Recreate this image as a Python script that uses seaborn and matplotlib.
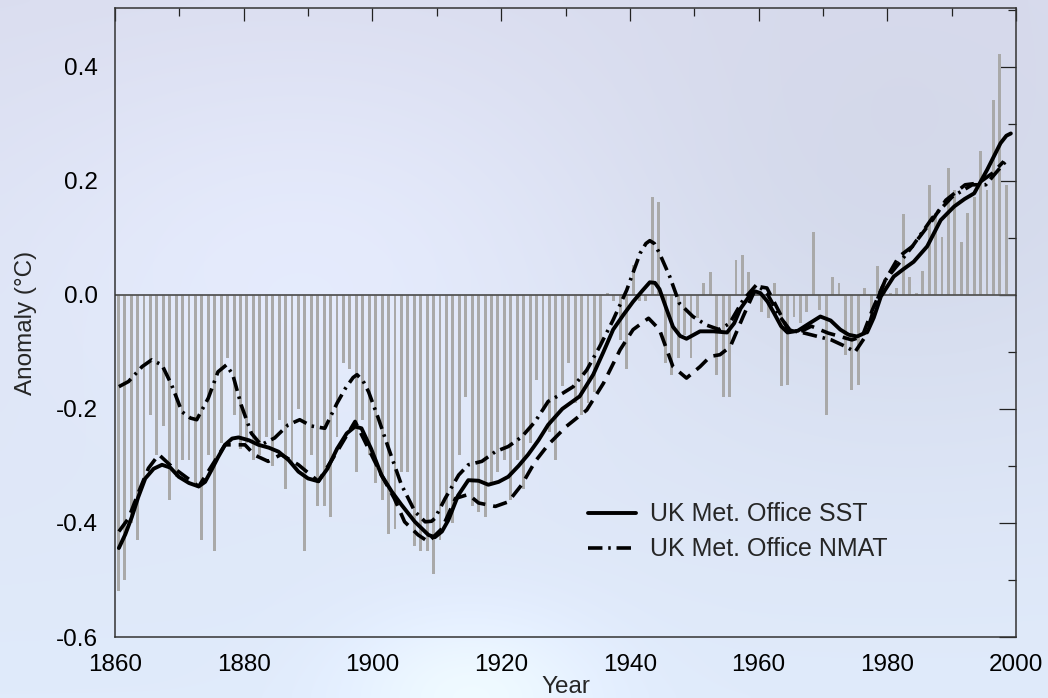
import numpy as np
import pandas as pd
import matplotlib
matplotlib.use("Agg")
import matplotlib.pyplot as plt
from matplotlib.ticker import MultipleLocator
from matplotlib.lines import Line2D
import seaborn as sns

# ---------------- data ----------------
bar_years = list(range(1861, 2000))
bar_values = [
    -0.52, -0.50, -0.40, -0.43, -0.33, -0.21, -0.28, -0.23, -0.36, -0.32,
    -0.29, -0.29, -0.33, -0.43, -0.28, -0.45, -0.26, -0.11, -0.21, -0.27,
    -0.26, -0.29, -0.28, -0.25, -0.30, -0.22, -0.34, -0.30, -0.20, -0.45,
    -0.28, -0.37, -0.37, -0.39, -0.25, -0.12, -0.13, -0.31, -0.22, -0.28,
    -0.33, -0.36, -0.42, -0.41, -0.31, -0.31, -0.44, -0.45, -0.45, -0.49,
    -0.43, -0.40, -0.40, -0.28, -0.18, -0.37, -0.38, -0.39, -0.33, -0.31,
    -0.29, -0.36, -0.29, -0.34, -0.26, -0.15, -0.20, -0.24, -0.29, -0.16,
    -0.12, -0.19, -0.21, -0.19, -0.17, -0.085, 0.003, -0.01, -0.08, -0.13,
    0.053, -0.01, -0.01, 0.172, 0.162, -0.12, -0.14, -0.11, -0.07, -0.11,
    -0.04, 0.02, 0.04, -0.14, -0.18, -0.18, 0.061, 0.07, 0.04, 0.0,
    -0.03, -0.04, 0.02, -0.16, -0.158, -0.038, -0.05, -0.03, 0.111, -0.026,
    -0.21, 0.031, 0.02, -0.105, -0.166, -0.158, 0.012, -0.047, 0.05, 0.026,
    0.003, 0.012, 0.142, 0.031, 0.003, 0.042, 0.193, 0.143, 0.102, 0.222,
    0.183, 0.092, 0.143, 0.172, 0.253, 0.183, 0.342, 0.423, 0.193,
]

sst_years = [1860.6, 1861.6, 1862.6, 1863.6, 1864.7, 1866.0, 1867.3, 1868.6,
             1869.9, 1871.5, 1873.0, 1874.0, 1875.0, 1876.0, 1877.1, 1878.2,
             1879.2, 1880.8, 1882.3, 1883.9, 1885.4, 1887.0, 1888.5, 1890.0,
             1891.6, 1893.0, 1894.5, 1896.0, 1897.3, 1898.3, 1899.8, 1901.4,
             1903.0, 1904.5, 1906.6, 1908.7, 1909.7, 1910.8, 1911.8, 1913.3,
             1914.9, 1916.5, 1918.0, 1919.6, 1921.1, 1922.7, 1924.2, 1925.8,
             1927.3, 1929.5, 1932.2, 1934.3, 1935.9, 1937.4, 1939.0, 1940.5,
             1942.0, 1943.1, 1943.9, 1944.6, 1945.7, 1946.7, 1947.8, 1948.8,
             1950.9, 1953.0, 1955.1, 1956.2, 1957.2, 1958.7, 1959.5, 1960.3,
             1961.4, 1962.4, 1963.5, 1964.5, 1966.1, 1967.9, 1969.6, 1971.2,
             1972.7, 1974.0, 1975.3, 1976.9, 1977.9, 1979.0, 1981.0, 1982.5,
             1984.1, 1986.2, 1988.3, 1990.4, 1992.0, 1993.5, 1995.5, 1997.6,
             1998.5, 1999.2]
sst_values = [-0.444, -0.42, -0.39, -0.355, -0.322, -0.305, -0.298, -0.303,
              -0.319, -0.33, -0.336, -0.328, -0.307, -0.285, -0.263, -0.252,
              -0.25, -0.255, -0.263, -0.268, -0.275, -0.29, -0.31, -0.322,
              -0.327, -0.305, -0.27, -0.243, -0.231, -0.234, -0.27, -0.316,
              -0.345, -0.368, -0.398, -0.421, -0.425, -0.415, -0.395, -0.352,
              -0.325, -0.326, -0.333, -0.328, -0.319, -0.3, -0.28, -0.255,
              -0.228, -0.2, -0.178, -0.14, -0.1, -0.061, -0.035, -0.012,
              0.008, 0.022, 0.021, 0.01, -0.025, -0.056, -0.072, -0.077,
              -0.064, -0.064, -0.066, -0.05, -0.024, 0.0, 0.006, 0.003,
              -0.012, -0.032, -0.055, -0.066, -0.063, -0.05, -0.038, -0.045,
              -0.061, -0.07, -0.073, -0.065, -0.04, -0.003, 0.032, 0.045,
              0.058, 0.085, 0.131, 0.155, 0.168, 0.178, 0.219, 0.266,
              0.279, 0.283]

nmat_years = [1860.6, 1862.1, 1864.2, 1865.7, 1867.3, 1868.8, 1870.4, 1871.7,
              1872.7, 1874.5, 1876.0, 1877.3, 1878.3, 1879.6, 1881.2, 1882.7,
              1884.8, 1886.9, 1888.7, 1890.5, 1892.6, 1894.5, 1895.8, 1897.0,
              1897.6, 1898.5, 1899.4, 1900.9, 1902.5, 1904.5, 1906.6, 1908.2,
              1909.2, 1909.7, 1911.3, 1913.4, 1914.9, 1917.0, 1919.1, 1921.1,
              1923.2, 1925.3, 1927.3, 1929.5, 1931.2, 1933.3, 1935.3, 1937.4,
              1939.5, 1941.6, 1942.5, 1943.1, 1943.8, 1944.6, 1946.2, 1947.7,
              1949.8, 1951.9, 1953.9, 1955.5, 1957.6, 1959.7, 1961.3, 1963.3,
              1964.9, 1967.1, 1969.2, 1971.3, 1973.4, 1975.0, 1976.6, 1978.2,
              1979.7, 1981.8, 1983.9, 1987.0, 1990.1, 1993.2, 1995.3, 1996.8,
              1998.4]
nmat_values = [-0.161, -0.152, -0.126, -0.114, -0.123, -0.158, -0.205, -0.216,
               -0.219, -0.181, -0.135, -0.123, -0.14, -0.193, -0.243, -0.263,
               -0.251, -0.228, -0.219, -0.23, -0.234, -0.19, -0.164, -0.145,
               -0.14, -0.15, -0.17, -0.216, -0.269, -0.333, -0.38, -0.398,
               -0.397, -0.392, -0.357, -0.316, -0.298, -0.292, -0.275, -0.266,
               -0.249, -0.222, -0.187, -0.173, -0.161, -0.132, -0.091, -0.044,
               0.008, 0.073, 0.09, 0.095, 0.09, 0.073, 0.032, -0.015,
               -0.038, -0.053, -0.061, -0.05, -0.009, 0.018, 0.003, -0.038,
               -0.062, -0.067, -0.073, -0.079, -0.09, -0.1, -0.073, -0.015,
               0.026, 0.055, 0.085, 0.135, 0.172, 0.193, 0.193, 0.213,
               0.234]

alt_years = [1860.6, 1862.1, 1863.7, 1865.2, 1866.8, 1868.8, 1873.0, 1877.1,
             1880.2, 1881.7, 1883.8, 1885.8, 1888.5, 1891.6, 1894.5, 1897.3,
             1901.4, 1903.4, 1905.0, 1907.1, 1908.7, 1910.8, 1912.9, 1914.9,
             1916.5, 1919.1, 1921.1, 1923.2, 1925.3, 1927.3, 1930.1, 1933.3,
             1935.9, 1938.5, 1940.5, 1942.9, 1944.6, 1946.7, 1948.8, 1950.9,
             1952.5, 1954.0, 1955.6, 1957.6, 1959.7, 1961.3, 1963.3, 1964.5,
             1966.1, 1968.2, 1970.8, 1974.5, 1976.1, 1977.7, 1979.7, 1981.8,
             1983.9, 1987.0, 1989.1, 1992.1, 1994.2, 1996.3, 1998.1]
alt_values = [-0.415, -0.392, -0.345, -0.304, -0.28, -0.301, -0.336, -0.263,
              -0.263, -0.281, -0.292, -0.28, -0.298, -0.327, -0.275, -0.222,
              -0.316, -0.357, -0.398, -0.421, -0.433, -0.41, -0.357, -0.35,
              -0.365, -0.371, -0.363, -0.333, -0.292, -0.263, -0.231, -0.202,
              -0.155, -0.096, -0.061, -0.041, -0.061, -0.126, -0.146, -0.126,
              -0.108, -0.105, -0.091, -0.038, 0.015, 0.012, -0.032, -0.06,
              -0.067, -0.055, -0.067, -0.079, -0.073, -0.026, 0.026, 0.067,
              0.085, 0.131, 0.166, 0.193, 0.196, 0.213, 0.234]

legend_labels = ["UK Met. Office SST", "UK Met. Office NMAT"]
x_ticks = [1860, 1880, 1900, 1920, 1940, 1960, 1980, 2000]
y_ticks = [-0.6, -0.4, -0.2, 0.0, 0.2, 0.4]

# ---------------- figure ----------------
sns.set_theme(style="white")
plt.rcParams["font.family"] = ["Liberation Sans", "DejaVu Sans"]

fig = plt.figure(figsize=(10.48, 6.98), dpi=100)

# sky-like background over whole figure
bg = fig.add_axes([0, 0, 1, 1], zorder=-10)
H, W = 140, 210
yy, xx = np.mgrid[0:H, 0:W]
yf = yy / (H - 1)
xf = xx / (W - 1)
top = np.array([218, 221, 239]) / 255.0
bot = np.array([224, 235, 251]) / 255.0
img = top[None, None, :] * (1 - yf[..., None]) + bot[None, None, :] * yf[..., None]
glow1 = np.exp(-(((xf - 0.3) / 0.3) ** 2 + ((yf - 0.35) / 0.3) ** 2))
glow2 = np.exp(-(((xf - 0.45) / 0.12) ** 2 + ((yf - 1.0) / 0.12) ** 2))
grey = np.exp(-(((xf - 0.85) / 0.3) ** 2 + ((yf - 0.3) / 0.35) ** 2))
img = img + glow1[..., None] * 0.035 + glow2[..., None] * 0.06 - grey[..., None] * 0.03
img = np.clip(img, 0, 1)
bg.imshow(img, aspect="auto", extent=[0, 1, 0, 1], interpolation="bicubic")
bg.set_axis_off()

ax = fig.add_axes([115 / 1048, 1 - 637 / 698, (1016 - 115) / 1048, (637 - 8) / 698])
ax.set_facecolor("none")

bars_df = pd.DataFrame({"year": np.array(bar_years) - 0.5, "anom": bar_values})
sns.barplot(data=bars_df, x="year", y="anom", native_scale=True, width=0.45,
            color="#a9a9a9", saturation=1, errorbar=None, ax=ax, zorder=1,
            linewidth=0)

ax.axhline(0, color="#555555", lw=1.3, zorder=2)

nmat_style = (0, (4.0, 1.6, 0.7, 1.6))
sns.lineplot(x=alt_years, y=alt_values, ax=ax, color="black", lw=2.6,
             linestyle=(0, (4.0, 2.2)), zorder=3)
sns.lineplot(x=nmat_years, y=nmat_values, ax=ax, color="black", lw=2.6,
             linestyle=nmat_style, zorder=3)
sns.lineplot(x=sst_years, y=sst_values, ax=ax, color="black", lw=2.8,
             linestyle="-", zorder=4)

ax.set_xlim(1860, 2000)
ax.set_ylim(-0.6, 0.503)
ax.set_xticks(x_ticks)
ax.set_yticks(y_ticks)
ax.set_xticklabels([str(t) for t in x_ticks])
ax.set_yticklabels([f"{t:.1f}" for t in y_ticks])
ax.xaxis.set_minor_locator(MultipleLocator(10))
ax.yaxis.set_minor_locator(MultipleLocator(0.1))
ax.tick_params(axis="both", which="both", direction="in", top=True, right=True,
               colors="#222222", labelcolor="black", labelsize=17.5, width=0.9)
ax.tick_params(axis="x", which="major", length=9.5, pad=12)
ax.tick_params(axis="y", which="major", length=12.5, pad=12)
ax.tick_params(axis="both", which="minor", length=5.5)
for s in ax.spines.values():
    s.set_color("#333333")
    s.set_linewidth(1.1)
    s.set_visible(True)

ax.set_xlabel("Year", fontsize=17.5, labelpad=0)
ax.set_ylabel("Anomaly (°C)", fontsize=17.5, labelpad=14)

handles = [Line2D([], [], color="black", lw=2.8, linestyle="-"),
           Line2D([], [], color="black", lw=2.6, linestyle=nmat_style)]
ax.legend(handles, legend_labels, loc="upper left", bbox_to_anchor=(0.5, 0.25),
          frameon=False, fontsize=18, handlelength=1.9, handletextpad=0.6,
          labelspacing=0.45)

fig.savefig("out.png", dpi=100)
